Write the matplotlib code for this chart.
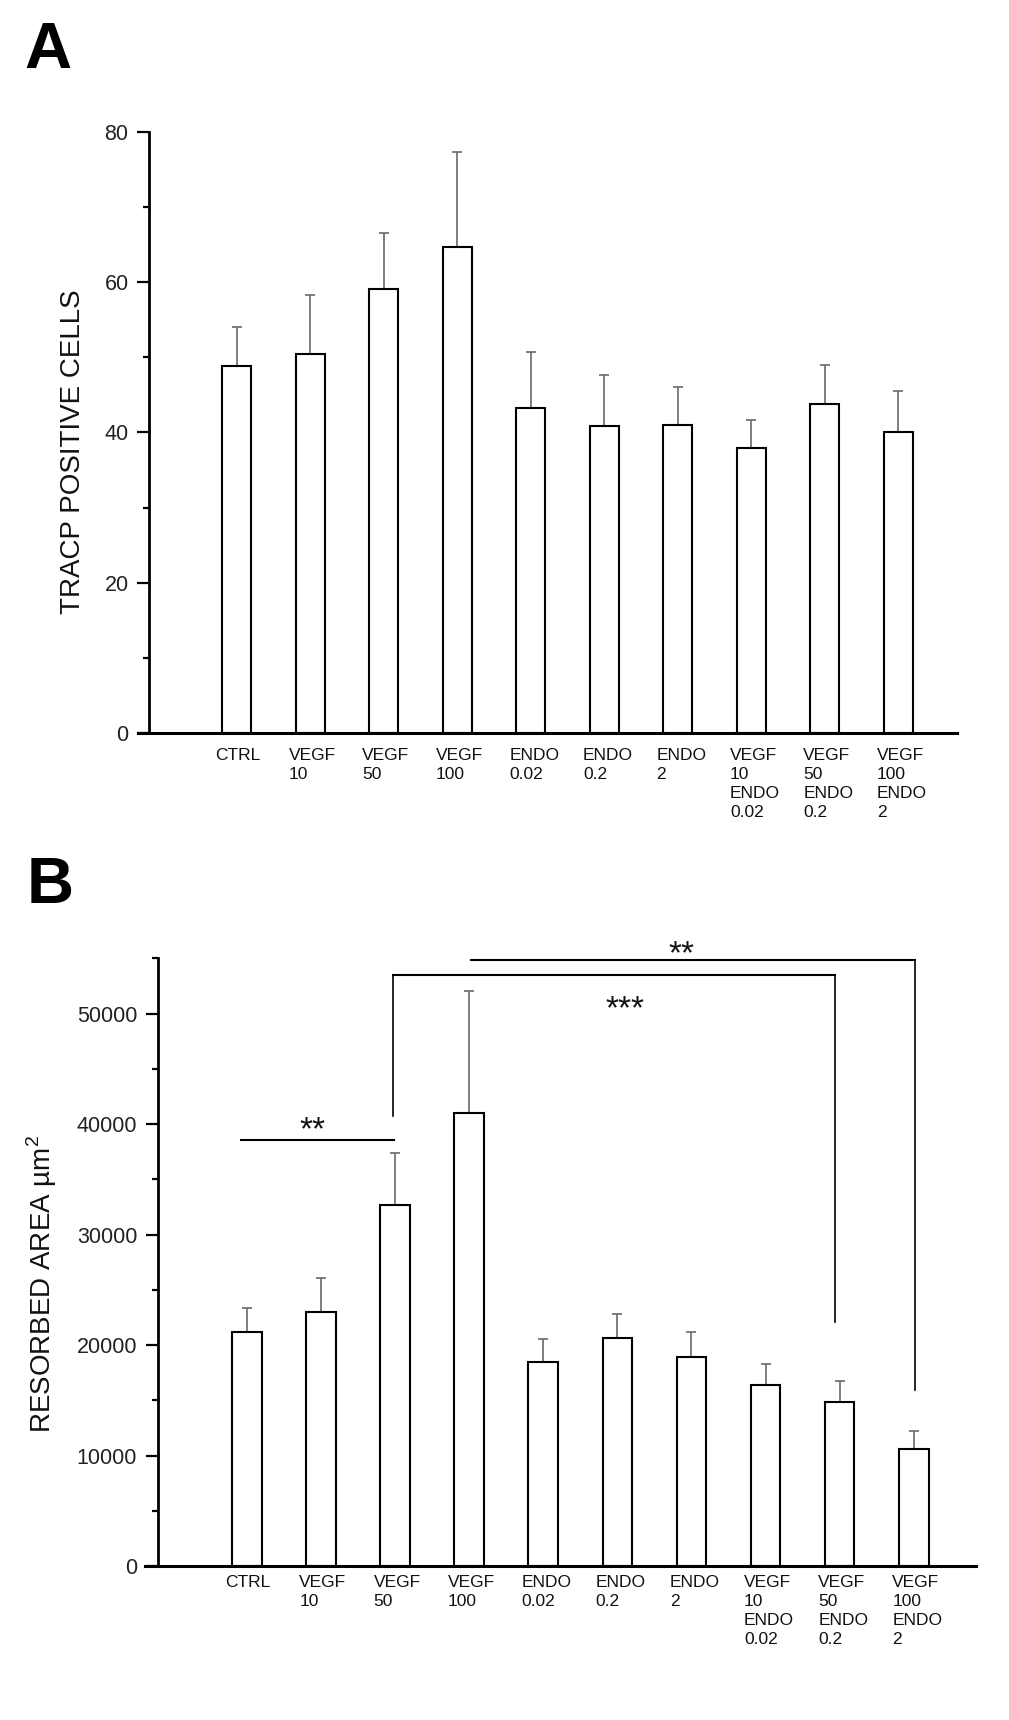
import matplotlib
matplotlib.use("Agg")
import matplotlib.pyplot as plt
from matplotlib.ticker import MultipleLocator
from matplotlib.transforms import blended_transform_factory
import numpy as np

plt.rcParams['font.family'] = ['Liberation Sans', 'DejaVu Sans']

groups = ["CTRL", "VEGF\n10", "VEGF\n50", "VEGF\n100", "ENDO\n0.02", "ENDO\n0.2",
          "ENDO\n2", "VEGF\n10\nENDO\n0.02", "VEGF\n50\nENDO\n0.2", "VEGF\n100\nENDO\n2"]

# panel A: TRACP positive cells (mean, mean + SEM)
tracp_mean = [48.9, 50.5, 59.1, 64.7, 43.2, 40.8, 41.0, 37.9, 43.8, 40.0]
tracp_top = [54.0, 58.3, 66.6, 77.3, 50.7, 47.6, 46.1, 41.7, 49.0, 45.5]

# panel B: resorbed area (mean, mean + SEM)
area_mean = [21180, 23020, 32630, 40970, 18430, 20660, 18910, 16380, 14840, 10610]
area_top = [23320, 26080, 37340, 52030, 20580, 22840, 21150, 18310, 16710, 12240]

# significance brackets in panel B: x_left, x_right, level, left drop, right drop
brackets = [
    (-0.08, 1.98, 38520, None, None),
    (1.97, 7.94, 53450, 40730, 22050),
    (3.02, 9.02, 54810, None, 15890),
]
stars = [("**", 0.88, 38610), ("***", 5.10, 49530), ("**", 5.87, 54560)]


def draw_panel(ax, means, tops, ylabel, ymax, major, minor, xlim, spine_x,
               label_xy, text_y):
    x = np.arange(len(means))
    means = np.array(means, dtype=float)
    tops = np.array(tops, dtype=float)

    ax.errorbar(x, means, yerr=[np.zeros(len(x)), tops - means], fmt='none',
                ecolor='#6a6a6a', elinewidth=1.2, capsize=3.9, capthick=1.2,
                zorder=2)
    ax.bar(x, means, width=0.4, color='white', edgecolor='black',
           linewidth=1.5, zorder=3)

    ax.set_xlim(*xlim)
    ax.set_ylim(0, ymax)
    ax.spines['top'].set_visible(False)
    ax.spines['right'].set_visible(False)
    ax.spines['left'].set_position(('data', spine_x))
    ax.spines['left'].set_linewidth(2)
    ax.spines['bottom'].set_linewidth(2.2)
    ax.spines['left'].set_zorder(4)
    ax.spines['bottom'].set_zorder(4)
    ax.set_xticks([])
    ax.yaxis.set_major_locator(MultipleLocator(major))
    ax.yaxis.set_minor_locator(MultipleLocator(minor))
    ax.tick_params(axis='y', which='major', length=8.4, width=1.6,
                   labelsize=15.5, pad=6.5, labelcolor='#222222')
    ax.tick_params(axis='y', which='minor', length=4.3, width=1.6)

    ax.set_ylabel(ylabel, fontsize=20, va='center', color='#111111')
    ax.yaxis.set_label_coords(*label_xy)

    tr = blended_transform_factory(ax.transData, ax.transAxes)
    for i, g in enumerate(groups):
        ax.text(i - 0.29, text_y, g, transform=tr, ha='left', va='top',
                fontsize=12.5, linespacing=1.33, color='#111111')


fig = plt.figure(figsize=(10.09, 17.2), dpi=100)

ax_a = fig.add_axes([0.1364, 0.57384, 0.8121, 0.34942])
draw_panel(ax_a, tracp_mean, tracp_top, "TRACP POSITIVE CELLS", 80, 20, 10,
           (-1.348, 9.80), -1.19, (-0.0788, 0.4676), -0.025)

ax_b = fig.add_axes([0.1439, 0.08953, 0.8234, 0.35332])
draw_panel(ax_b, area_mean, area_top, "RESORBED AREA \u00b5m$^{\\mathregular{2}}$",
           55000, 10000, 5000, (-1.371, 9.84), -1.2, (-0.1242, 0.464), -0.015)

for xl, xr, lev, dl, dr in brackets:
    ax_b.plot([xl, xr], [lev, lev], color='black', linewidth=1.5, clip_on=False,
              zorder=5)
    if dl is not None:
        ax_b.plot([xl, xl], [lev, dl], color='black', linewidth=1.2,
                  clip_on=False, zorder=5)
    if dr is not None:
        ax_b.plot([xr, xr], [lev, dr], color='black', linewidth=1.2,
                  clip_on=False, zorder=5)

for s, sx, sy in stars:
    ax_b.text(sx, sy, s, ha='center', va='baseline', fontsize=24,
              color='#111111', clip_on=False)

fig.text(0.0238, 0.9603, "A", fontsize=47, fontweight='bold', va='baseline')
fig.text(0.0268, 0.4748, "B", fontsize=47, fontweight='bold', va='baseline')

fig.savefig('out.png', dpi=100)
